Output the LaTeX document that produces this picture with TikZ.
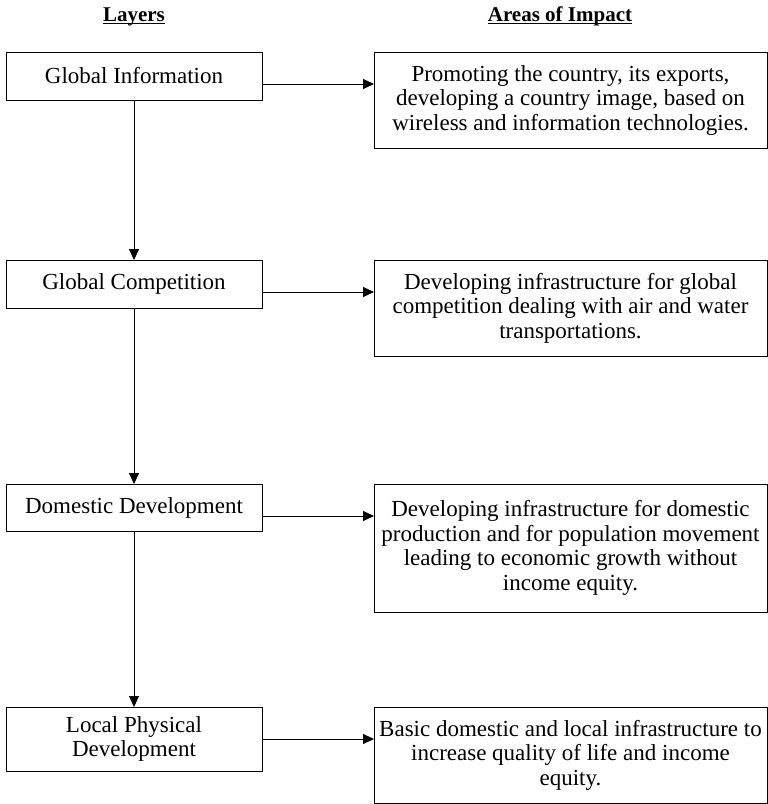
\documentclass[tikz,border=0pt]{standalone}
\usepackage{fontspec}
\setmainfont{Liberation Serif}
\usetikzlibrary{arrows.meta}

\begin{document}
\begin{tikzpicture}[x=1pt, y=-1pt,
  every node/.style={inner sep=0pt, outer sep=0pt},
  bodyfont/.style={font=\fontsize{23}{24.5}\selectfont},
  layerbox/.style={draw, line width=0.9pt, bodyfont, align=center,
    minimum width=256pt, minimum height=48pt},
  impactbox/.style={draw, line width=0.9pt, bodyfont, align=center,
    minimum width=393pt, minimum height=96pt},
  header/.style={font=\fontsize{21}{24}\bfseries\selectfont, anchor=base},
  headrule/.style={line width=1.1pt},
  link/.style={line width=0.9pt, -{Triangle[length=11pt,width=10pt]}}
]
\useasboundingbox (0,0) rectangle (768,804);

% column headings
\node[header] (hlayers) at (134,21) {Layers};
\node[header] (himpact) at (560,21) {Areas of Impact};
\draw[headrule] ([yshift=-2.5pt]hlayers.base west) -- ([yshift=-2.5pt]hlayers.base east);
\draw[headrule] ([yshift=-2.5pt]himpact.base west) -- ([yshift=-2.5pt]himpact.base east);

% layers
\node[layerbox] (b1) at (134,76) {Global Information};
\node[layerbox] (b2) at (134,284) {Global Competition};
\node[layerbox, minimum height=47pt] (b3) at (134,507.5) {Domestic Development};
\node[layerbox, minimum height=64pt] (b4) at (134,739) {Local Physical\\Development};

% areas of impact
\node[impactbox] (r1) at (570.5,100) {Promoting the country, its exports,\\developing a country image, based on\\wireless and information technologies.};
\node[impactbox] (r2) at (570.5,308) {Developing infrastructure for global\\competition dealing with air and water\\transportations.};
\node[impactbox, minimum height=128pt] (r3) at (570.5,548) {Developing infrastructure for domestic\\production and for population movement\\leading to economic growth without\\income equity.};
\node[impactbox] (r4) at (570.5,755) {Basic domestic and local infrastructure to\\increase quality of life and income\\equity.};

% vertical chain of layers
\draw[link] (b1.south) -- (b2.north);
\draw[link] (b2.south) -- (b3.north);
\draw[link] (b3.south) -- (b4.north);

% layer to impact
\coordinate (a1) at ([yshift=-8pt]b1.east);
\coordinate (a2) at ([yshift=-8pt]b2.east);
\coordinate (a3) at ([yshift=-8.5pt]b3.east);
\coordinate (a4) at (b4.east);
\draw[link] (a1) -- (a1 -| r1.west);
\draw[link] (a2) -- (a2 -| r2.west);
\draw[link] (a3) -- (a3 -| r3.west);
\draw[link] (a4) -- (a4 -| r4.west);
\end{tikzpicture}
\end{document}
